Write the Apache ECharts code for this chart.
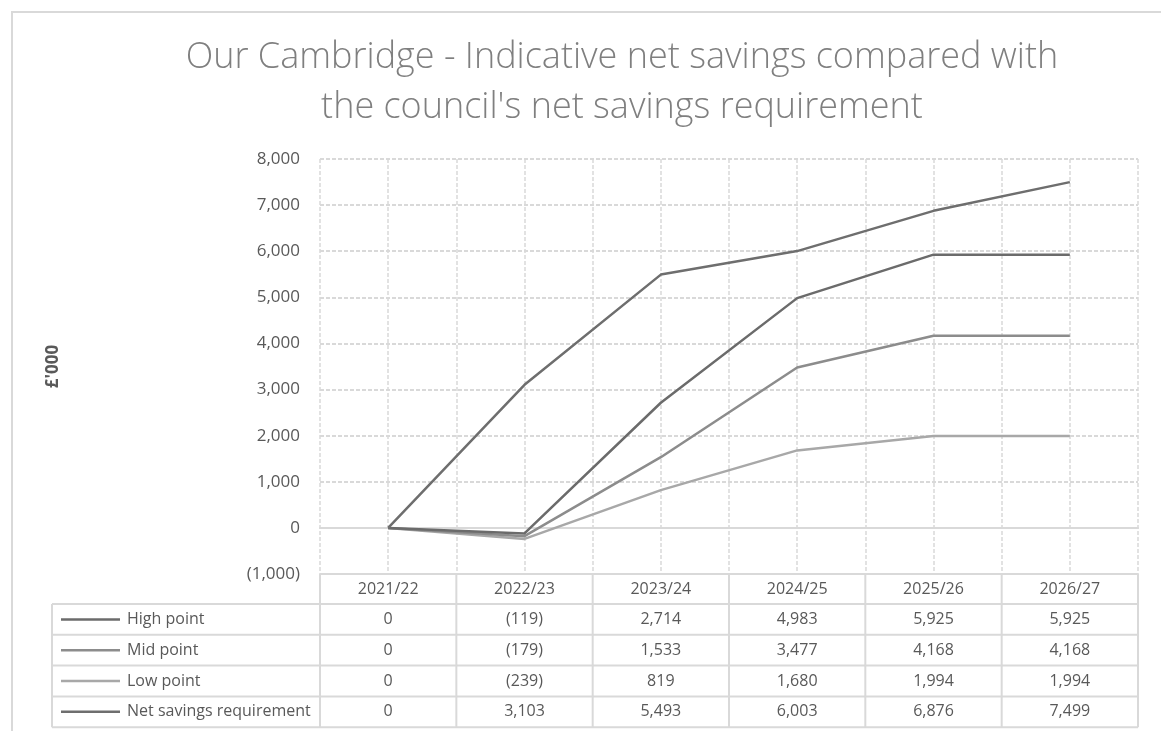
<!DOCTYPE html>
<html>
<head>
<meta charset="utf-8">
<script src="https://cdn.jsdelivr.net/npm/echarts@6/dist/echarts.min.js"></script>
<style>
html, body { margin: 0; padding: 0; background: #fff; }
#main { width: 1161px; height: 731px; }
</style>
</head>
<body>
<div id="main"></div>
<script>
var years = ['2021/22', '2022/23', '2023/24', '2024/25', '2025/26', '2026/27'];
var seriesNames = ['High point', 'Mid point', 'Low point', 'Net savings requirement'];
var highPoint = [0, -119, 2714, 4983, 5925, 5925];
var midPoint = [0, -179, 1533, 3477, 4168, 4168];
var lowPoint = [0, -239, 819, 1680, 1994, 1994];
var netRequirement = [0, 3103, 5493, 6003, 6876, 7499];
var lineColors = ['#6b6b6b', '#8c8c8c', '#a8a8a8', '#6e6e6e'];

var allValues = [highPoint, midPoint, lowPoint, netRequirement];

// plot box + table layout
var L = 320, R = 1138, T = 159, B = 574;
var tableLeft = 52, headBottom = 604, rowH = 30.8;
var gridColor = '#d9d9d9';
var textColor = '#595959';
var font = '"Open Sans", "Noto Sans", sans-serif';

function fmt(v) {
    var s = Math.abs(v).toLocaleString('en-GB');
    return v < 0 ? '(' + s + ')' : s;
}

var myChart = echarts.init(document.getElementById('main'));

var colW = (R - L) / years.length;
var graphics = [];
function hline(x1, x2, y) {
    graphics.push({ type: 'line', shape: { x1: x1, y1: y, x2: x2, y2: y }, style: { stroke: gridColor, lineWidth: 2 }, silent: true });
}
function vline(x, y1, y2) {
    graphics.push({ type: 'line', shape: { x1: x, y1: y1, x2: x, y2: y2 }, style: { stroke: gridColor, lineWidth: 2 }, silent: true });
}
// outer chart border
graphics.push({ type: 'rect', shape: { x: 12, y: 12, width: 1170, height: 740 }, style: { fill: null, stroke: gridColor, lineWidth: 2 }, silent: true });

var tableBottom = headBottom + rowH * seriesNames.length;
// header row
hline(L, R, B);
for (var r = 0; r <= seriesNames.length; r++) {
    hline(tableLeft, R, headBottom + r * rowH);
}
vline(tableLeft, headBottom, tableBottom);
for (var c = 0; c <= years.length; c++) {
    vline(L + c * colW, B, tableBottom);
}
years.forEach(function (y, i) {
    graphics.push({ type: 'text', x: L + (i + 0.5) * colW, y: (B + headBottom) / 2,
        style: { text: y, fill: textColor, font: '16px ' + font, align: 'center', verticalAlign: 'middle' } });
});
seriesNames.forEach(function (name, r) {
    var cy = headBottom + (r + 0.5) * rowH;
    graphics.push({ type: 'line', shape: { x1: 61, y1: cy, x2: 120, y2: cy }, style: { stroke: lineColors[r], lineWidth: 2.5 } });
    graphics.push({ type: 'text', x: 127, y: cy,
        style: { text: name, fill: textColor, font: '16px ' + font, align: 'left', verticalAlign: 'middle' } });
    allValues[r].forEach(function (v, i) {
        graphics.push({ type: 'text', x: L + (i + 0.5) * colW, y: cy,
            style: { text: fmt(v), fill: textColor, font: '16px ' + font, align: 'center', verticalAlign: 'middle' } });
    });
});

option = {
    animation: false,
    title: {
        text: 'Our Cambridge - Indicative net savings compared with\nthe council\'s net savings requirement',
        left: 617, top: 28, textAlign: 'center',
        textStyle: { color: '#7f7f7f', fontSize: 36, fontWeight: 300, fontFamily: font, lineHeight: 50 }
    },
    grid: { left: L, right: 1161 - R, top: T, bottom: 731 - B },
    xAxis: [
        {
            type: 'category',
            data: years,
            boundaryGap: true,
            axisLabel: { show: false },
            axisTick: { show: false },
            axisLine: { show: true, onZero: true, lineStyle: { color: gridColor, width: 2 } },
            splitLine: { show: false }
        },
        {
            // only for the dashed vertical grid (boundaries + centres)
            type: 'value', min: 0, max: years.length * 2, interval: 1,
            show: true,
            axisLabel: { show: false }, axisTick: { show: false }, axisLine: { show: false },
            splitLine: { show: true, lineStyle: { color: gridColor, type: [4, 2], width: 1.5 } }
        }
    ],
    yAxis: {
        type: 'value',
        min: -1000, max: 8000, interval: 1000,
        name: '£\'000',
        nameLocation: 'middle',
        nameRotate: 90,
        nameGap: 258,
        nameTextStyle: { color: textColor, fontWeight: 'bold', fontSize: 17, fontFamily: font },
        axisLine: { show: false },
        axisTick: { show: false },
        axisLabel: { color: textColor, fontSize: 17, fontFamily: font, margin: 20, formatter: fmt },
        splitLine: { lineStyle: { color: gridColor, type: [4, 2], width: 2 } }
    },
    series: seriesNames.map(function (name, i) {
        return {
            name: name,
            type: 'line',
            data: allValues[i],
            symbol: 'none',
            z: 5 - (i === 3 ? 0 : i),
            lineStyle: { color: lineColors[i], width: 2.5 }
        };
    }),
    graphic: graphics
};
myChart.setOption(option);
</script>
</body>
</html>
